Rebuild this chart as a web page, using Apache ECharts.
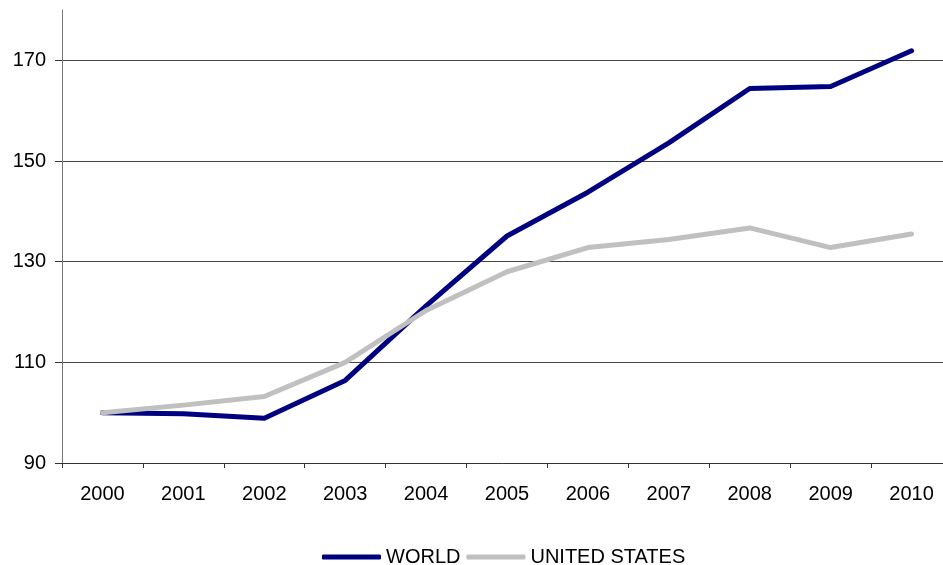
<!DOCTYPE html>
<html>
<head>
<meta charset="utf-8">
<script src="https://cdn.jsdelivr.net/npm/echarts@6/dist/echarts.min.js"></script>
<style>
html,body{margin:0;padding:0;background:#fff;}
#chart{width:943px;height:565px;}
</style>
</head>
<body>
<div id="chart"></div>
<script>
const categories = ['2000','2001','2002','2003','2004','2005','2006','2007','2008','2009','2010'];
const worldValues = [100, 99.8, 98.9, 106.4, 121.2, 135.1, 143.8, 153.6, 164.4, 164.8, 171.9];
const usValues = [100, 101.5, 103.2, 110.0, 120.3, 128.0, 132.8, 134.4, 136.7, 132.8, 135.5];
const seriesNames = ['WORLD', 'UNITED STATES'];
const yTicks = {min: 90, max: 180, interval: 20};

const chart = echarts.init(document.getElementById('chart'), null, {renderer: 'canvas'});
const font = 'Liberation Sans, Arial, sans-serif';
chart.setOption({
  animation: false,
  backgroundColor: '#ffffff',
  grid: {left: 62, width: 890, top: 10, height: 453, containLabel: false, outerBoundsMode: 'none'},
  legend: {
    top: 542,
    left: 317,
    itemWidth: 59,
    itemHeight: 5,
    itemGap: 6,
    icon: 'roundRect',
    textStyle: {fontFamily: font, fontSize: 20, color: '#000'},
    data: seriesNames
  },
  xAxis: {
    type: 'category',
    data: categories,
    boundaryGap: true,
    axisLine: {lineStyle: {color: '#333', width: 1}},
    axisTick: {show: true, alignWithLabel: false, length: 5, lineStyle: {color: '#333'}},
    axisLabel: {fontFamily: font, fontSize: 20, color: '#000', margin: 21},
    splitLine: {show: false}
  },
  yAxis: {
    type: 'value',
    min: yTicks.min,
    max: yTicks.max,
    interval: yTicks.interval,
    axisLine: {show: true, lineStyle: {color: '#777', width: 1}},
    axisTick: {show: true, length: 7, lineStyle: {color: '#333'}},
    axisLabel: {fontFamily: font, fontSize: 20, color: '#000', margin: 16, showMaxLabel: false},
    splitLine: {show: true, showMinLine: false, showMaxLine: false, lineStyle: {color: '#444', width: 1}}
  },
  series: [
    {
      name: seriesNames[0],
      type: 'line',
      data: worldValues,
      symbol: 'none',
      color: '#000080',
      lineStyle: {color: '#000080', width: 5, cap: 'round', join: 'round'},
      z: 3
    },
    {
      name: seriesNames[1],
      type: 'line',
      data: usValues,
      symbol: 'none',
      color: '#c0c0c0',
      lineStyle: {color: '#c0c0c0', width: 5, cap: 'round', join: 'round'},
      z: 4
    }
  ]
});
</script>
</body>
</html>
